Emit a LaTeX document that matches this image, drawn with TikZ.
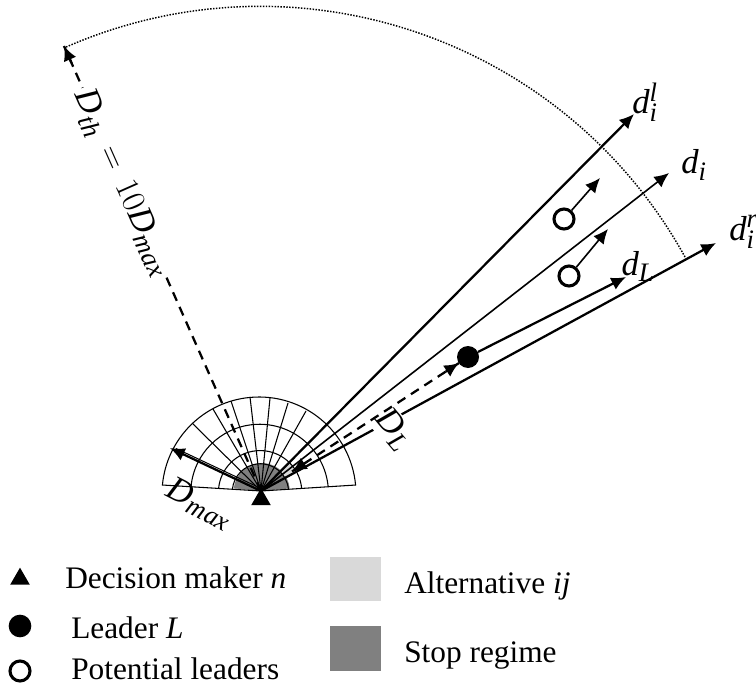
\documentclass[tikz,border=0pt]{standalone}
\usepackage{fontspec}
\setmainfont{Liberation Serif}
\usetikzlibrary{arrows.meta,shapes.geometric,calc}
\DeclareMathSizes{26}{26}{20}{16}
\newcommand{\mi}[1]{\mathit{#1}}
\tikzset{
  grid/.style={line width=.8pt,black},
  tipA/.style={-{Latex[length=11pt,width=10pt]}},
  thickarrow/.style={tipA,line width=1.7pt},
  thinarrow/.style={tipA,line width=1.2pt},
  dashline/.style={line width=1.7pt,dash pattern=on 7pt off 5pt},
  legend/.style={font=\fontsize{23.5}{26}\selectfont,anchor=base west,inner sep=0pt},
  mathlabel/.style={font=\fontsize{26}{29}\selectfont,inner sep=0pt},
  leaderdot/.style={circle,fill=black,inner sep=0pt,minimum size=16.5pt},
  potdot/.style={circle,draw=black,line width=2.3pt,fill=white,inner sep=0pt,minimum size=15pt},
  tri/.style={regular polygon,regular polygon sides=3,fill=black,inner sep=0pt,minimum size=17pt}
}
\begin{document}
\begin{tikzpicture}[x=.75pt,y=.75pt]
\useasboundingbox (0,-684) rectangle (756,0);
\coordinate (A) at (261,-491);
% stop regime sector
\fill[black!50] (A) -- (233.9,-488.4) arc[start angle=174.7,end angle=5.3,radius=28] -- cycle;
% alternative cell
\fill[black!15] (A) ++(29:28) -- ++(29:13) arc[start angle=29,end angle=45,radius=41] -- ++(225:13) arc[start angle=45,end angle=29,radius=28] -- cycle;
% fan
\foreach \s in {0.29,0.43,0.71,1}{
  \draw[grid] ([shift={({261-2*\s},{-491-3*\s})}]5.3:{97*\s}) arc[start angle=5.3,end angle=174.7,radius={97*\s}];
}
\coordinate (fanL) at (162,-485);
\coordinate (fanR) at (356,-485);
\draw[grid] (fanL) -- (A) -- (fanR);
\foreach \x/\y in {192.3/423.3,213/409,231/401,250/397,270/398,288/403,306/411}{
  \draw[grid] (A) -- (\x,-\y);
}
% dotted arc
\coordinate (thTip) at (64,-46);
\draw[line width=1.1pt,dash pattern=on 1.1pt off 1.1pt] (685,-257) arc[start angle=28.9,end angle=113.9,radius=485];
% direction arrows
\coordinate (dlTip) at (634,-114);
\coordinate (diTip) at (669,-173);
\coordinate (drTip) at (716,-243);
\coordinate (dmaxTip) at (170,-448);
\draw[thickarrow] (A) -- (dlTip);
\draw[thinarrow] (A) -- (diTip);
\draw[thickarrow] (A) -- (drTip);
\draw[line width=.75pt] (260,-488) -- (176,-448.5);
\draw[thickarrow] (A) -- (dmaxTip);
% D_L label hides part of d_i^r
\node[mathlabel,fill=white,rotate=-50,inner sep=1pt] (DL) at (394,-430) {$\mi{D}_{\mi{L}}$};
% leader
\node[leaderdot] (L) at (468,-357) {};
\coordinate (dLTip) at (626,-277);
\draw[thickarrow] (L) -- (dLTip);
\coordinate (LdashA) at (292,-471.5);
\coordinate (LdashB) at (459,-363);
\draw[dashline] (LdashB) -- (LdashA);
\draw[tipA,line width=1.7pt] ($(LdashB)!12pt!(LdashA)$) -- (LdashB);
\draw[tipA,line width=1.7pt] ($(LdashA)!12pt!(LdashB)$) -- (LdashA);
% potential leaders
\node[potdot] (P1) at (564,-219) {};
\coordinate (P1Tip) at (600,-178);
\draw[thinarrow] (P1) -- (P1Tip);
\node[potdot] (P2) at (569,-276) {};
\coordinate (P2Tip) at (608,-229);
\draw[thinarrow] (P2) -- (P2Tip);
% threshold
\draw[dashline] (A) -- (thTip);
\draw[tipA,line width=1.7pt] ($(thTip)!14pt!(A)$) -- (thTip);
\node[mathlabel,fill=white,rotate=-66,inner sep=2pt] (Dth) at (122,-183) {$\mi{D}_{\mi{th}}\,=\,10\mi{D}_{\mi{max}}$};
\node[mathlabel,rotate=-27] (Dmax) at (200,-504) {$\mi{D}_{\mi{max}}$};
\node[tri] (N) at (261,-499.5) {};
% labels
\node[mathlabel] (ldl) at (645,-102) {$\mi{d}_{\mi{i}}^{\mi{l}}$};
\node[mathlabel] (ldi) at (694,-165) {$\mi{d}_{\mi{i}}$};
\node[mathlabel,anchor=base west] (ldr) at (729,-240) {$\mi{d}_{\mi{i}}^{\mi{r}}$};
\node[mathlabel] (ldL) at (638,-266) {$\mi{d}_{\mi{L}}$};
% legend
\node[tri,minimum size=17pt] (k1) at (20,-579) {};
\node[leaderdot,minimum size=17pt] (k2) at (20,-626) {};
\node[potdot,minimum size=15pt] (k3) at (20,-671) {};
\node[legend] (t1) at (65,-588) {Decision maker $\mi{n}$};
\node[legend] (t2) at (71,-638) {Leader $\mi{L}$};
\node[legend] (t3) at (71,-679) {Potential leaders};
\node[fill=black!15,minimum width=38.25pt,minimum height=33pt,inner sep=0pt,anchor=north west] (s1) at (330,-557) {};
\node[fill=black!50,minimum width=38.25pt,minimum height=33.75pt,inner sep=0pt,anchor=north west] (s2) at (330,-626) {};
\node[legend] (t4) at (404,-593) {Alternative $\mi{ij}$};
\node[legend] (t5) at (404,-662) {Stop regime};
\end{tikzpicture}
\end{document}
